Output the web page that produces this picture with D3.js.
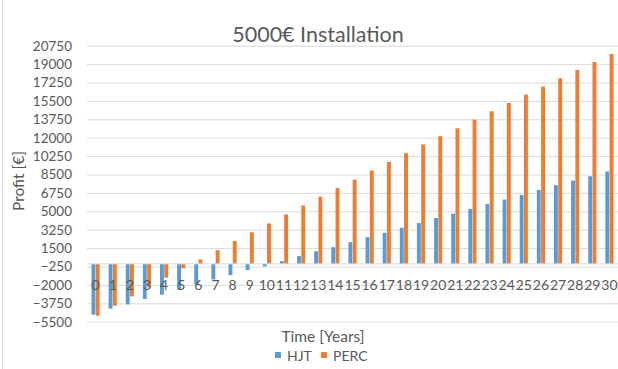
<!DOCTYPE html>
<html>
<head>
<meta charset="utf-8">
<script src="https://cdn.jsdelivr.net/npm/d3@7"></script>
<style>
  html, body { margin: 0; padding: 0; background: #ffffff; }
  svg { display: block; }
  text { font-family: Lato, "Open Sans", sans-serif; fill: #595959; }
</style>
</head>
<body>
<svg id="chart" width="618" height="369"></svg>
<script>
const categories = ["0","1","2","3","4","5","6","7","8","9","10","11","12","13","14","15","16","17","18","19","20","21","22","23","24","25","26","27","28","29","30"];
const seriesNames = ["HJT", "PERC"];
const hjt = [-4830, -4264, -3850, -3341, -2927, -2450, -1960, -1480, -1070, -590, -230, 253, 739, 1196, 1591, 2068, 2545, 2959, 3436, 3882, 4359, 4777, 5223, 5700, 6114, 6559, 7036, 7482, 7927, 8330, 8787];
const perc = [-4920, -3980, -3090, -2230, -1310, -420, 420, 1300, 2170, 3010, 3850, 4700, 5550, 6380, 7220, 8020, 8880, 9700, 10530, 11360, 12150, 12900, 13725, 14516, 15307, 16098, 16860, 17650, 18440, 19200, 19960];
const yTicks = [-5500, -3750, -2000, -250, 1500, 3250, 5000, 6750, 8500, 10250, 12000, 13750, 15500, 17250, 19000, 20750];
const colors = { HJT: "#5B9BD5", PERC: "#ED7D31" };
const title = "5000€ Installation";
const xTitle = "Time [Years]";
const yTitle = "Profit [€]";

const svg = d3.select("#chart");
const plotLeft = 87, plotRight = 618, plotTop = 45.7, plotBottom = 321.7;

const x = d3.scaleBand().domain(categories).range([plotLeft, plotRight]).paddingInner(0).paddingOuter(0);
const xs = d3.scaleBand().domain(seriesNames).range([0, x.bandwidth()]).paddingInner(0).paddingOuter(1);
const y = d3.scaleLinear().domain([-5500, 20750]).range([plotBottom, plotTop]);

// left border
svg.append("line").attr("x1", 2.5).attr("x2", 2.5).attr("y1", 0).attr("y2", 369)
  .attr("stroke", "#D9D9D9").attr("stroke-width", 1);

// y axis with gridlines
const yAxis = d3.axisLeft(y).tickValues(yTicks).tickFormat(d3.format("d"))
  .tickSizeInner(-(618 - plotLeft)).tickSizeOuter(0).tickPadding(15);
const gy = svg.append("g").attr("transform", `translate(${plotLeft},0)`).call(yAxis);
gy.select(".domain").remove();
gy.selectAll(".tick line").attr("stroke", "#D9D9D9").attr("stroke-width", 1);
gy.selectAll(".tick text").style("font-size", "13.5px").attr("fill", "#595959");

// bars
const data = categories.map((c, i) => ({ cat: c, HJT: hjt[i], PERC: perc[i] }));
const groups = svg.append("g").selectAll("g").data(data).join("g")
  .attr("transform", d => `translate(${x(d.cat)},0)`);
groups.selectAll("rect").data(d => seriesNames.map(s => ({ s, v: d[s] }))).join("rect")
  .attr("x", d => xs(d.s) + 0.2)
  .attr("width", xs.bandwidth() - 0.4)
  .attr("y", d => y(Math.max(0, d.v)))
  .attr("height", d => Math.abs(y(d.v) - y(0)))
  .attr("fill", d => colors[d.s]);

// x axis at zero
const xAxis = d3.axisBottom(x).tickSize(0).tickPadding(16);
const gx = svg.append("g").attr("transform", `translate(0,${y(0)})`).call(xAxis);
gx.select(".domain").attr("stroke", "#D9D9D9").attr("d", `M${plotLeft},0H618`);
gx.selectAll(".tick text").style("font-size", "14px").attr("fill", "#595959");

// title
svg.append("text").attr("x", 318).attr("y", 42).attr("text-anchor", "middle")
  .style("font-size", "21.5px").text(title);

// axis titles
svg.append("text").attr("x", 323).attr("y", 342).attr("text-anchor", "middle")
  .style("font-size", "15.5px").text(xTitle);
svg.append("text").attr("transform", "translate(24,181) rotate(-90)").attr("text-anchor", "middle")
  .style("font-size", "15.5px").text(yTitle);

// legend
const legendPos = [{ s: "HJT", x: 275 }, { s: "PERC", x: 321 }];
const lg = svg.append("g").selectAll("g").data(legendPos).join("g")
  .attr("transform", d => `translate(${d.x},0)`);
lg.append("rect").attr("x", 0).attr("y", 352).attr("width", 6).attr("height", 6)
  .attr("fill", d => colors[d.s]);
lg.append("text").attr("x", 12).attr("y", 360.5).style("font-size", "14px").text(d => d.s);
</script>
</body>
</html>
